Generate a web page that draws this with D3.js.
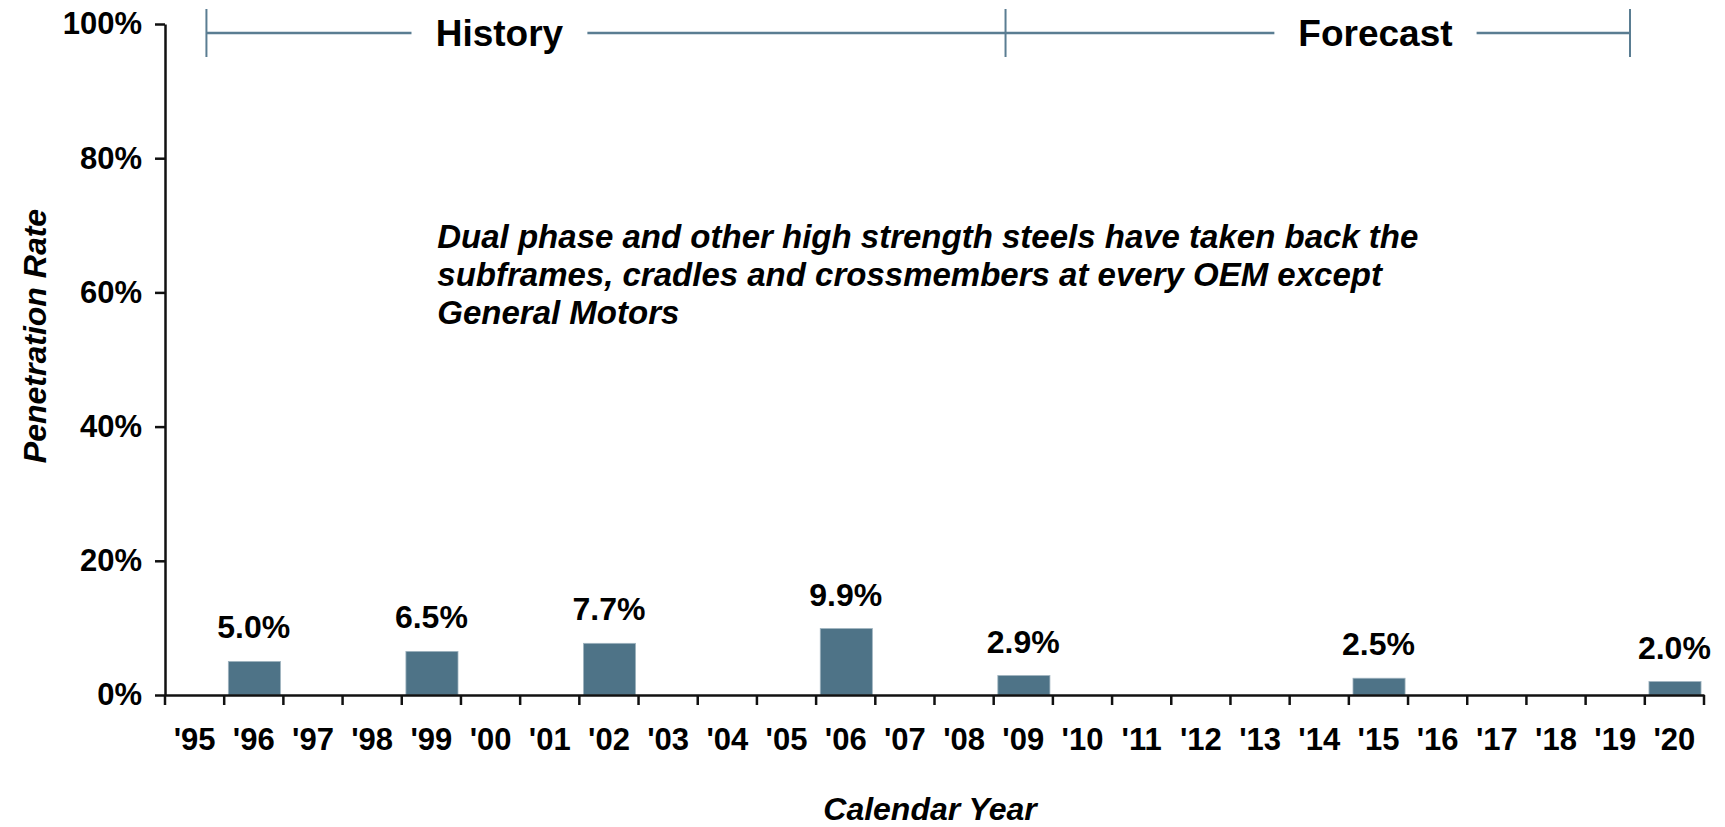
<!DOCTYPE html>
<html>
<head>
<meta charset="utf-8">
<script src="https://cdn.jsdelivr.net/npm/d3@7"></script>
<style>
  body { margin: 0; background: #fff; }
  svg { display: block; }
  text { font-family: Arial, "Liberation Sans", Helvetica, sans-serif; }
</style>
</head>
<body>
<svg id="chart" width="1725" height="827"></svg>
<script>
// Calendar years on the category axis
const years = ["'95","'96","'97","'98","'99","'00","'01","'02","'03","'04","'05","'06","'07",
               "'08","'09","'10","'11","'12","'13","'14","'15","'16","'17","'18","'19","'20"];
// Penetration rate (%) per year; null = no bar
const rates = [null, 5.0, null, null, 6.5, null, null, 7.7, null, null, null, 9.9, null,
               null, 2.9, null, null, null, null, null, 2.5, null, null, null, null, 2.0];
// Value axis ticks (%)
const yTicks = [0, 20, 40, 60, 80, 100];

// History / Forecast bracket, in calendar-year units
const periods = ["History", "Forecast"];
const periodStart = [1995.7, 2009.2];
const periodEnd = [2009.2, 2019.75];
const periodLabelAt = [2000.65, 2015.45];

// Callout text, placed at (year, rate %)
const noteLines = [
  "Dual phase and other high strength steels have taken back the",
  "subframes, cradles and crossmembers at every OEM except",
  "General Motors"
];
const noteAt = [1999.6, 66.6];

const W = 1725, H = 827;
const m = { top: 24, right: 21, bottom: 132, left: 165 };
const AXIS = "#111";
const BAR = "#4E7387";
const BRACKET = "#5A7D92";

const svg = d3.select("#chart");

const x = d3.scaleBand().domain(years).range([m.left, W - m.right]).padding(0);
const xYear = d3.scaleLinear().domain([1995, 2021]).range([m.left, W - m.right]);
const y = d3.scaleLinear().domain([0, 100]).range([H - m.bottom, m.top]);

const data = years.map((yr, i) => ({ yr, v: rates[i] })).filter(d => d.v != null);

// Bars
svg.append("g").selectAll("rect")
  .data(data)
  .join("rect")
  .attr("x", d => x(d.yr) + x.bandwidth() * 0.07)
  .attr("width", x.bandwidth() * 0.88)
  .attr("y", d => y(d.v))
  .attr("height", d => y(0) - y(d.v))
  .attr("fill", BAR)
  .attr("stroke", "#9fb3bf")
  .attr("stroke-width", 0.8);

// Value labels above bars
svg.append("g").selectAll("text")
  .data(data)
  .join("text")
  .attr("x", d => x(d.yr) + x.bandwidth() / 2)
  .attr("y", d => y(d.v) - 23)
  .attr("text-anchor", "middle")
  .attr("font-size", 32)
  .attr("font-weight", "bold")
  .attr("fill", "#000")
  .text(d => d3.format(".1f")(d.v) + "%");

// Y axis
svg.append("g")
  .attr("transform", `translate(${m.left},0)`)
  .call(d3.axisLeft(y).tickValues(yTicks).tickFormat(d => d + "%")
    .tickSize(10).tickSizeOuter(0).tickPadding(13))
  .call(g => {
    g.attr("font-family", null);
    g.select(".domain").attr("stroke", AXIS).attr("stroke-width", 2.5);
    g.selectAll(".tick line").attr("stroke", AXIS).attr("stroke-width", 2.5);
    g.selectAll(".tick text").attr("font-size", 31).attr("font-weight", "bold").attr("fill", "#000");
  });

// X axis: labels centred in each year, ticks on year boundaries
svg.append("g")
  .attr("transform", `translate(0,${y(0)})`)
  .call(d3.axisBottom(x).tickSize(0).tickSizeOuter(0).tickPadding(33))
  .call(g => {
    g.attr("font-family", null);
    g.select(".domain").attr("stroke", AXIS).attr("stroke-width", 2.5);
    g.selectAll(".tick text").attr("font-size", 31).attr("font-weight", "bold").attr("fill", "#000");
  })
  .call(g => g.append("g").selectAll("line")
    .data(years.map(yr => x(yr)).concat([x(years[years.length - 1]) + x.bandwidth()]))
    .join("line")
    .attr("x1", d => d).attr("x2", d => d)
    .attr("y1", 0).attr("y2", 10)
    .attr("stroke", AXIS).attr("stroke-width", 2.5));

// Axis titles
svg.append("text")
  .attr("transform", `translate(46,336) rotate(-90)`)
  .attr("text-anchor", "middle")
  .attr("font-size", 32)
  .attr("font-weight", "bold")
  .attr("font-style", "italic")
  .attr("fill", "#000")
  .text("Penetration Rate");

svg.append("text")
  .attr("x", 930)
  .attr("y", 820)
  .attr("text-anchor", "middle")
  .attr("font-size", 32)
  .attr("font-weight", "bold")
  .attr("font-style", "italic")
  .attr("fill", "#000")
  .text("Calendar Year");

// History / Forecast bracket
const bracket = svg.append("g");
const barY = 33, capTop = 9, capBot = 57, gap = 24;
periods.forEach((name, i) => {
  const cx = xYear(periodLabelAt[i]);
  const t = bracket.append("text")
    .attr("x", cx).attr("y", 46)
    .attr("text-anchor", "middle")
    .attr("font-size", 37)
    .attr("font-weight", "bold")
    .attr("fill", "#000")
    .text(name);
  const w = t.node().getBBox().width;
  const x0 = xYear(periodStart[i]), x1 = xYear(periodEnd[i]);
  [[x0, cx - w / 2 - gap], [cx + w / 2 + gap, x1]].forEach(([a, b]) => {
    bracket.append("line")
      .attr("x1", a).attr("x2", b).attr("y1", barY).attr("y2", barY)
      .attr("stroke", BRACKET).attr("stroke-width", 2.5);
  });
});
bracket.selectAll("line.cap")
  .data(Array.from(new Set(periodStart.concat(periodEnd))))
  .join("line")
  .attr("class", "cap")
  .attr("x1", d => xYear(d)).attr("x2", d => xYear(d))
  .attr("y1", capTop).attr("y2", capBot)
  .attr("stroke", BRACKET).attr("stroke-width", 2);

// Callout
const note = svg.append("text")
  .attr("x", xYear(noteAt[0]))
  .attr("y", y(noteAt[1]))
  .attr("font-size", 33)
  .attr("font-weight", "bold")
  .attr("font-style", "italic")
  .attr("fill", "#000");
note.selectAll("tspan")
  .data(noteLines)
  .join("tspan")
  .attr("x", xYear(noteAt[0]))
  .attr("dy", (d, i) => i === 0 ? 0 : 38)
  .text(d => d);
</script>
</body>
</html>
